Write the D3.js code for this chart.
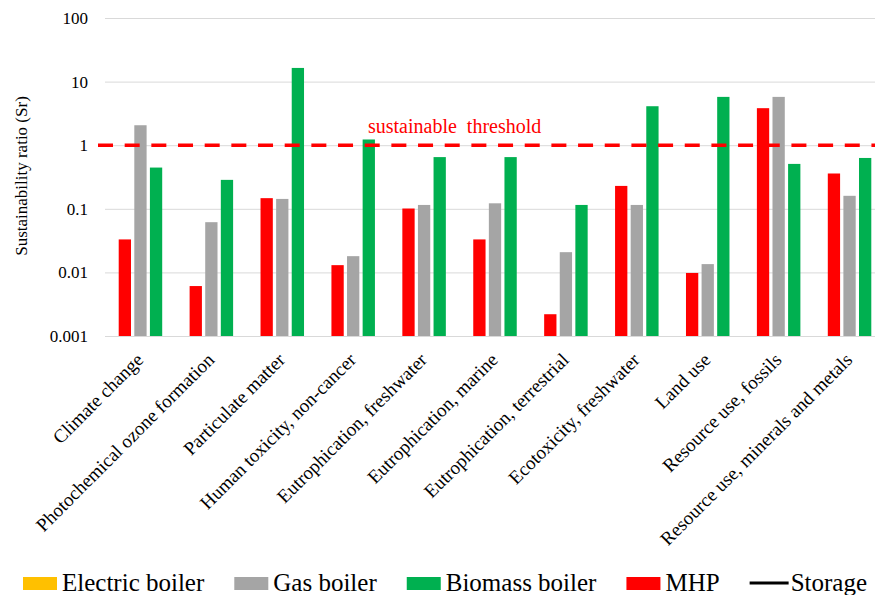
<!DOCTYPE html>
<html><head><meta charset="utf-8">
<script src="https://cdn.jsdelivr.net/npm/d3@7"></script>
<style>
body{margin:0;background:#fff}
svg{display:block}
</style>
</head><body><svg id="c" width="875" height="595" font-family="Liberation Serif"></svg>
<script>
const categories = ["Climate change","Photochemical ozone formation","Particulate matter","Human toxicity, non-cancer","Eutrophication, freshwater","Eutrophication, marine","Eutrophication, terrestrial","Ecotoxicity, freshwater","Land use","Resource use, fossils","Resource use, minerals and metals"];
const mhpValues     = [0.033, 0.0061, 0.147, 0.013, 0.101, 0.033, 0.0022, 0.229, 0.0098, 3.82, 0.359];
const gasValues     = [2.06, 0.0616, 0.143, 0.018, 0.115, 0.122, 0.0208, 0.115, 0.0135, 5.75, 0.16];
const biomassValues = [0.445, 0.285, 16.4, 1.23, 0.65, 0.65, 0.115, 4.1, 5.75, 0.508, 0.63];
const barSeries = ["MHP","Gas boiler","Biomass boiler"];
const yTicks = [0.001, 0.01, 0.1, 1, 10, 100];
const yTickLabels = ["0.001","0.01","0.1","1","10","100"];
const thresholdValue = 1;
const thresholdLabel = "sustainable\u00a0 threshold";
const yTitle = "Sustainability ratio (Sr)";
const legendLabels = ["Electric boiler","Gas boiler","Biomass boiler","MHP","Storage"];

const FONT = "Liberation Serif";
const colors = {"Electric boiler":"#FFC000","Gas boiler":"#A5A5A5","Biomass boiler":"#00B050","MHP":"#FF0000","Storage":"#000000"};
const seriesValues = {"MHP":mhpValues,"Gas boiler":gasValues,"Biomass boiler":biomassValues};

const svg = d3.select("#c");
svg.append("rect").attr("width",875).attr("height",595).attr("fill","#fff");

const plotLeft = 105, plotRight = 885, plotTop = 18, plotBottom = 336;
const x = d3.scaleBand().domain(categories).range([plotLeft,plotRight]).padding(0);
const xs = d3.scaleBand().domain(barSeries).range([-21.75,21.75]).paddingInner(0.212).paddingOuter(0);
const y = d3.scaleLog().domain([0.001,100]).range([plotBottom,plotTop]);

// y axis with gridlines
const yAxis = d3.axisLeft(y).tickValues(yTicks).tickFormat((d,i)=>yTickLabels[i])
  .tickSize(-(875-plotLeft)).tickPadding(17);
const gy = svg.append("g").attr("transform",`translate(${plotLeft},0)`).call(yAxis)
  .attr("font-family",FONT).attr("font-size",17);
gy.select(".domain").remove();
gy.selectAll(".tick line").attr("stroke","#D9D9D9").attr("stroke-width",1);
gy.selectAll(".tick text").attr("fill","#000");

// bars
const data = [];
categories.forEach((c,i)=>barSeries.forEach(s=>data.push({c,s,v:seriesValues[s][i]})));
svg.append("g").selectAll("rect").data(data).join("rect")
  .attr("x",d=>x(d.c)+x.bandwidth()/2+xs(d.s))
  .attr("width",xs.bandwidth())
  .attr("y",d=>y(d.v))
  .attr("height",d=>plotBottom-y(d.v))
  .attr("fill",d=>colors[d.s]);

// x axis labels
const xAxis = d3.axisBottom(x).tickSize(0).tickPadding(0);
const gx = svg.append("g").attr("transform",`translate(0,${plotBottom})`).call(xAxis)
  .attr("font-family",FONT).attr("font-size",19);
gx.select(".domain").remove();
gx.selectAll(".tick text")
  .attr("fill","#000")
  .attr("text-anchor","end")
  .attr("y",0).attr("dy",0)
  .attr("transform","translate(4,25) rotate(-45)");

// threshold
svg.append("line").attr("x1",98).attr("x2",875)
  .attr("y1",y(thresholdValue)).attr("y2",y(thresholdValue))
  .attr("stroke","#FF0000").attr("stroke-width",3.5).attr("stroke-dasharray","15,11.67");
svg.append("text").attr("x",368).attr("y",y(thresholdValue)-12)
  .attr("font-family",FONT).attr("font-size",20).attr("fill","#FF0000").text(thresholdLabel);

// y title
svg.append("text").attr("transform",`translate(27,176) rotate(-90)`)
  .attr("font-family",FONT).attr("text-anchor","middle").attr("font-size",17).text(yTitle);

// legend
const lg = svg.append("g").attr("font-family",FONT);
let lx = 23;
legendLabels.forEach(name=>{
  if(name==="Storage"){
    lg.append("line").attr("x1",lx).attr("x2",lx+39).attr("y1",583).attr("y2",583)
      .attr("stroke","#000").attr("stroke-width",3);
  } else {
    lg.append("rect").attr("x",lx).attr("y",577).attr("width",34).attr("height",13).attr("fill",colors[name]);
  }
  const sw = name==="Storage"?41:39;
  const t = lg.append("text").attr("x",lx+sw).attr("y",591).attr("font-size",25).text(name);
  lx = lx + sw + t.node().getComputedTextLength() + 30;
});
</script></body></html>
